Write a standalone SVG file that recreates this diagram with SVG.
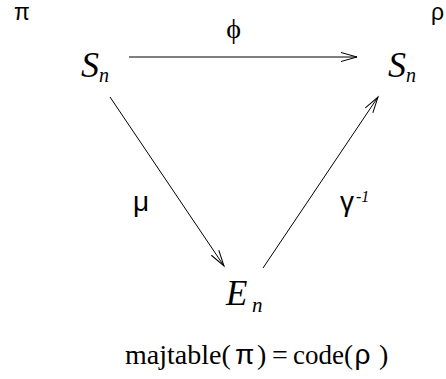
<svg xmlns="http://www.w3.org/2000/svg" width="446" height="379" viewBox="0 0 446 379">
<style>
.it{font-family:"Liberation Serif",serif;font-style:italic;fill:#000}
.gr{font-family:"Liberation Sans",sans-serif;fill:#000}
.rm{font-family:"Liberation Serif",serif;fill:#000}
.edge{stroke:#000;stroke-width:1;fill:none;marker-end:url(#ah)}
</style>
<defs>
<marker id="ah" markerUnits="userSpaceOnUse" markerWidth="20" markerHeight="12" viewBox="-17 -6 18 12" refX="0" refY="0" orient="auto" overflow="visible">
<path d="M-16,-4.5 L0,0 L-16,4.5" fill="none" stroke="#000" stroke-width="1"/>
</marker>
</defs>
<rect width="446" height="379" fill="#fff"/>
<text class="gr" x="14" y="20" font-size="23">π</text>
<text class="gr" x="431" y="20" font-size="23">ρ</text>
<g id="edges">
<line class="edge" x1="129" y1="57" x2="357" y2="57"/>
<line class="edge" x1="110" y1="97" x2="224" y2="266"/>
<line class="edge" x1="263" y1="268" x2="378" y2="97"/>
</g>
<g id="lbl-phi"><text class="rm" x="233.5" y="38" font-size="28" text-anchor="middle">ϕ</text></g>
<g id="lbl-mu"><text class="gr" x="133" y="211" font-size="28">μ</text></g>
<g id="lbl-gamma"><text class="gr" x="340" y="211" font-size="28">γ<tspan class="it" font-size="16" x="356" y="202">-1</tspan></text></g>
<g id="node-Sn-left"><text class="it" x="81" y="77" font-size="36">S<tspan font-size="20" y="82">n</tspan></text></g>
<g id="node-Sn-right"><text class="it" x="388" y="77" font-size="36">S<tspan font-size="20" y="82">n</tspan></text></g>
<g id="node-En"><text class="it" x="226" y="305" font-size="35">E<tspan font-size="21" x="252" y="312">n</tspan></text></g>
<g id="caption"><text class="rm" y="364" font-size="28"><tspan x="125">majtable(</tspan><tspan class="gr" x="235">π</tspan><tspan x="257">)</tspan><tspan x="272">=</tspan><tspan x="293" font-size="27">code(</tspan><tspan class="gr" x="354.5">ρ</tspan><tspan x="379">)</tspan></text></g>
</svg>
